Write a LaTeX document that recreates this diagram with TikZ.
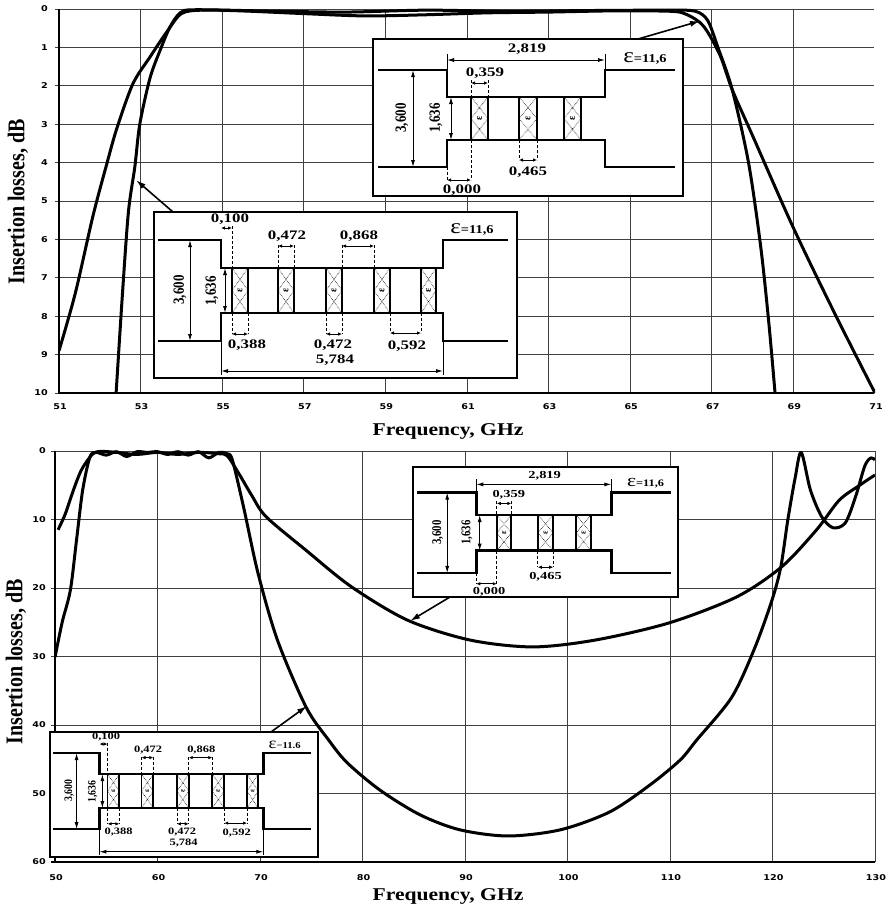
\documentclass[tikz,border=0pt]{standalone}
\usepackage{fontspec}
\setmainfont{Liberation Serif}
\newfontfamily\tickfont{DejaVu Sans}
\usetikzlibrary{arrows.meta}

% one dielectric post: left x, right x, top y, bottom y
\newcommand{\post}[4]{%
  \pgfmathsetmacro{\pym}{(#3+#4)/2}%
  \pgfmathsetmacro{\pxm}{(#1+#2)/2}%
  \draw[hatch] (#1,#3) -- (#2,\pym) -- (#1,#4) (#2,#3) -- (#1,\pym) -- (#2,#4);
  \draw[postside] (#1,#3) -- (#1,#4) (#2,#3) -- (#2,#4);
  \node[postlbl] (eps) at (\pxm,\pym) {ε};
}

% filter with three posts (local pixel frame)
\newcommand{\threeres}{%
  \draw[insetbox] (0,0) rectangle (310,157);
  \draw[wg] (5,31) -- (74,31) -- (74,58) -- (232,58) -- (232,31) -- (302,31);
  \draw[wg] (5,128) -- (74,128) -- (74,101) -- (232,101) -- (232,128) -- (302,128);
  \foreach \a/\b in {98/115,146/164,191/208} {\post{\a}{\b}{58}{101}}
  \draw[ext] (74,15) -- (74,31) (232,15) -- (232,31);
  \draw[dimln] (74,21) -- (232,21);
  \node[lbl] (w2819) at (154,10) {2,819};
  \node[epslbl] (eps3) at (272,19) {{\fontsize{21}{21}\selectfont ε}{\bfseries\fontsize{12}{12}\selectfont =11,6}};
  \draw[dimln] (40,31) -- (40,128);
  \node[vlbl] (w3600) at (29,79) {3,600};
  \draw[dimln] (78,58) -- (78,101);
  \node[vlbl] (w1636) at (63,79) {1,636};
  \draw[dashln] (98,41) -- (98,58) (115,41) -- (115,58);
  \draw[smalldim] (98,44) -- (115,44);
  \node[lbl] (w0359) at (112,34) {0,359};
  \draw[dashln] (146,101) -- (146,121) (164,101) -- (164,121);
  \draw[smalldim] (146,121) -- (164,121);
  \node[lbl] (w0465) at (155,133) {0,465};
  \draw[dashln] (74,128) -- (74,141) (98,101) -- (98,141);
  \draw[smalldim] (74,141) -- (98,141);
  \node[lbl] (w0000) at (89,151) {0,000};
}

% filter with five posts (local pixel frame), #1 = permittivity text
\newcommand{\fiveres}[1]{%
  \draw[insetbox] (0,0) rectangle (363,166);
  \draw[wg] (4,28) -- (67,28) -- (67,56) -- (289,56) -- (289,28) -- (354,28);
  \draw[wg] (4,129) -- (67,129) -- (67,101) -- (289,101) -- (289,129) -- (354,129);
  \foreach \a/\b in {78/94,124/140,172/188,220/236,267/282} {\post{\a}{\b}{56}{101}}
  \draw[dashln] (78,14) -- (78,56);
  \draw[smalldim] (67,16) -- (78,16);
  \node[lbl] (v0100) at (76,7) {0,100};
  \draw[dashln] (124,33) -- (124,56) (140,33) -- (140,56);
  \draw[smalldim] (124,34) -- (140,34);
  \node[lbl] (v0472a) at (133,24) {0,472};
  \draw[dashln] (188,33) -- (188,56) (220,33) -- (220,56);
  \draw[smalldim] (188,34) -- (220,34);
  \node[lbl] (v0868) at (205,24) {0,868};
  \draw[dashln] (78,101) -- (78,122) (94,101) -- (94,122);
  \draw[smalldim] (78,122) -- (94,122);
  \node[lbl] (v0388) at (93,133) {0,388};
  \draw[dashln] (172,101) -- (172,122) (188,101) -- (188,122);
  \draw[smalldim] (172,122) -- (188,122);
  \node[lbl] (v0472b) at (179,133) {0,472};
  \draw[dashln] (236,101) -- (236,121) (267,101) -- (267,121);
  \draw[smalldim] (236,121) -- (267,121);
  \node[lbl] (v0592) at (253,134) {0,592};
  \draw[ext] (67,129) -- (67,163) (289,129) -- (289,163);
  \draw[dimln] (67,159) -- (289,159);
  \node[lbl] (v5784) at (181,148) {5,784};
  \draw[dimln] (36,28) -- (36,129);
  \node[vlbl] (v3600) at (26,78) {3,600};
  \draw[dimln] (71,56) -- (71,101);
  \node[vlbl] (v1636) at (58,79) {1,636};
  \node[epslbl] (eps5) at (318,17) {{\fontsize{21}{21}\selectfont ε}{\bfseries\fontsize{12}{12}\selectfont #1}};
}

\begin{document}
\begin{tikzpicture}[x=1pt, y=-1pt, >=latex]
\tikzstyle{gridln}=[line width=0.9pt, black!75]
\tikzstyle{axisln}=[line width=1.3pt]
\tikzstyle{resp}=[line width=3pt, line join=round, smooth]
\tikzstyle{ticklbl}=[font=\tickfont\bfseries\fontsize{8}{9}\selectfont, xscale=1.2, transform shape, inner sep=0pt]
\tikzstyle{axtitle}=[font=\bfseries\fontsize{18}{18}\selectfont, xscale=1.2, transform shape, inner sep=0pt]
\tikzstyle{vtitle}=[font=\bfseries\fontsize{20}{20}\selectfont, rotate=90, yscale=1.2, transform shape, inner sep=0pt]
\tikzstyle{insetbox}=[line width=2pt, fill=white]
\tikzstyle{wg}=[line width=2.6pt]
\tikzstyle{postside}=[line width=1.8pt]
\tikzstyle{hatch}=[densely dotted, line width=0.6pt]
\tikzstyle{postlbl}=[font=\bfseries\fontsize{10}{10}\selectfont, rotate=90, transform shape, inner sep=0pt]
\tikzstyle{lbl}=[font=\bfseries\fontsize{13}{13}\selectfont, xscale=1.3, transform shape, inner sep=0pt]
\tikzstyle{vlbl}=[font=\bfseries\fontsize{13}{13}\selectfont, rotate=90, yscale=1.2, transform shape, inner sep=0pt]
\tikzstyle{epslbl}=[xscale=1.2, transform shape, inner sep=0pt]
\tikzstyle{dimln}=[{Latex[length=7pt,width=4pt]}-{Latex[length=7pt,width=4pt]}, line width=0.9pt]
\tikzstyle{smalldim}=[{Latex[length=4pt,width=3.5pt]}-{Latex[length=4pt,width=3.5pt]}, line width=0.9pt]
\tikzstyle{ext}=[line width=0.8pt]
\tikzstyle{dashln}=[densely dashed, line width=0.8pt]
\tikzstyle{callout}=[-{Latex[length=10pt,width=6pt]}, line width=1.6pt]

\fill[white] (0,0) rectangle (889,906);
\useasboundingbox (0,0) rectangle (889,906);

% ---------- upper plot: 51..71 GHz, 0..10 dB
\foreach \k in {0,...,10} {
  \draw[gridln] (55,{9+38.4*\k}) -- (874,{9+38.4*\k});
  \node[ticklbl, anchor=east] (uy\k) at (48,{9+38.4*\k}) {\k};
}
\foreach \f in {53,55,...,69}
  \draw[gridln] ({59+40.8*(\f-51)},9) -- ({59+40.8*(\f-51)},393);
\foreach \f in {51,53,...,71}
  \node[ticklbl] (ux\f) at ({60+40.8*(\f-51)},407) {\f};
\draw[axisln] (59,9) -- (59,393) -- (874,393);
\node[axtitle] (uxt) at (448,431) {Frequency, GHz};
\node[vtitle] (uyt) at (18,202) {Insertion losses, dB};

\begin{scope}[x=40.8pt, y=-38.4pt, shift={(-2021.8pt,-9pt)}]
  \clip (51,-0.1) rectangle (71,10);
  % three posts
  \draw[resp] plot coordinates {(51,8.9) (51.4,7.4) (51.83,5.4) (52.18,4.0) (52.42,3.1)
    (52.81,1.95) (53.23,1.25) (53.64,0.6) (54.0,0.12) (54.5,0.03) (55.5,0.05) (57,0.12)
    (58.5,0.18) (60,0.15) (61.5,0.1) (63,0.08) (64.5,0.05) (66,0.06) (66.4,0.15)
    (66.8,0.45) (67.2,1.2) (67.5,2.1) (68,3.3) (69,5.7) (70,7.9) (71,10)};
  % five posts
  \draw[resp] plot coordinates {(52.4,10) (52.55,7.5) (52.7,5.3) (52.86,4.1) (52.98,3.0)
    (53.23,1.8) (53.48,1.07) (53.72,0.47) (53.97,0.1) (54.3,0.02) (56,0.05) (58,0.08)
    (60,0.03) (62,0.06) (64,0.04) (66,0.03) (66.6,0.06) (66.9,0.3) (67.15,1.0) (67.5,2.1)
    (67.9,4.0) (68.2,6.2) (68.4,8.2) (68.55,10)};
\end{scope}

\begin{scope}[shift={(373,39)}]
  \threeres
\end{scope}
\begin{scope}[shift={(154,212)}]
  \fiveres{=11,6}
\end{scope}
\coordinate (from3u) at (638,39);
\coordinate (to3u) at (700,21);
\coordinate (from5u) at (173,212);
\coordinate (to5u) at (136,180);
\draw[callout] (from3u) -- (to3u);
\draw[callout] (from5u) -- (to5u);

% ---------- lower plot: 50..130 GHz, 0..60 dB
\foreach \k in {0,10,...,50}
  \draw[gridln] (51,{451+6.85*\k}) -- (875,{451+6.85*\k});
\foreach \k in {0,10,...,60}
  \node[ticklbl, anchor=east] (ly\k) at (46,{451+6.85*\k}) {\k};
\foreach \f in {60,70,...,130}
  \draw[gridln] ({55+10.25*(\f-50)},451) -- ({55+10.25*(\f-50)},862);
\foreach \f in {50,60,...,130}
  \node[ticklbl] (lx\f) at ({56+10.25*(\f-50)},878) {\f};
\draw[axisln] (55,451) -- (55,862) -- (875,862);
\draw[axisln] (51,862) -- (55,862);
\node[axtitle] (lxt) at (448,896) {Frequency, GHz};
\node[vtitle] (lyt) at (16,662) {Insertion losses, dB};

\begin{scope}[x=10.25pt, y=-6.85pt, shift={(-457.5pt,-451pt)}]
  \clip (50,-0.4) rectangle (130,60);
  % three posts
  \draw[resp] plot coordinates {(50.3,11.5) (51,9.2) (51.8,5.7) (52.5,3.0) (53.2,1.3)
    (53.8,0.3) (54.5,0.05) (56,0.2) (58,0.5) (60,0.2) (62,0.5) (64,0.2) (66,0.4) (66.8,0.7)
    (67.9,3.2) (69.2,6.5) (70.6,9.6) (74.5,14.5) (78.9,19.8) (84.4,24.7) (90.5,27.6)
    (96.6,28.6) (102.7,27.6) (109.9,25.1) (116.5,21.3) (120.9,16.9) (124.3,11.5)
    (126.5,7.2) (128.5,5.0) (130,3.5)};
  % five posts
  \draw[resp] plot coordinates {(50,30.1) (50.7,25) (51.5,20.3) (52.1,13) (52.7,5.7)
    (53.4,0.9) (54,0.2) (55,0.6) (56,0.1) (57,0.8) (58,0.1) (59,0.2) (60,0.1) (61,0.5)
    (62,0.1) (63,0.6) (64,0.1) (65,1.0) (66,0.2) (66.8,0.4) (67.3,1.3) (68.4,8.2)
    (69.8,17.8) (71.7,27.6) (74.5,37.4) (76.7,42.2) (78.5,45.5) (81.7,49.5) (85.6,53.1)
    (89.5,55.3) (94.2,56.2) (99.3,55.3) (104.1,52.7) (108,48.8) (111,45.1) (112.6,42.2)
    (116,36) (118.2,29) (119.9,22) (120.8,17) (121.5,10) (122.2,4) (122.8,0.2)
    (123.7,5.7) (124.8,9.6) (125.9,11.2) (127.1,10.5) (128.1,6.7) (129,2.2) (129.6,1.0)
    (130,1.3)};
\end{scope}

\begin{scope}[shift={(413,467)}, xscale=0.855, yscale=0.828]
  \threeres
\end{scope}
\begin{scope}[shift={(50,732)}, xscale=0.738, yscale=0.753]
  \fiveres{−11.6}
\end{scope}
\coordinate (from3l) at (450,597);
\coordinate (to3l) at (410,621);
\coordinate (from5l) at (271,732);
\coordinate (to5l) at (307,706);
\draw[callout] (from3l) -- (to3l);
\draw[callout] (from5l) -- (to5l);
\end{tikzpicture}
\end{document}
